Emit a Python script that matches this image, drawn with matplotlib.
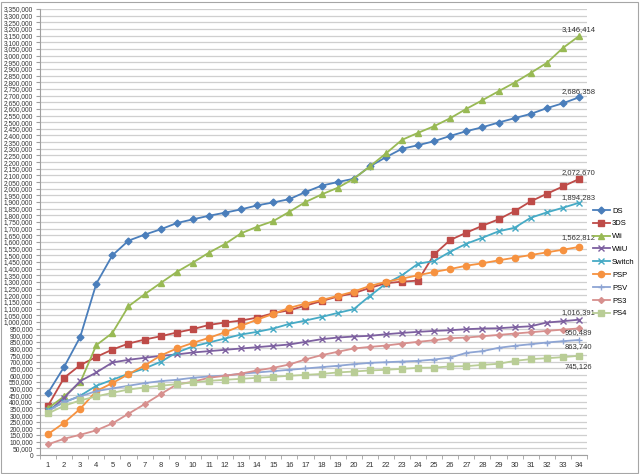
import matplotlib.pyplot as plt
import numpy as np
from matplotlib.patches import Rectangle
from matplotlib.ticker import FuncFormatter, MultipleLocator

plt.rcParams['font.family'] = ['Liberation Sans', 'DejaVu Sans']

weeks = np.arange(1, 35)

ds = [467, 662, 887, 1287, 1500, 1610, 1655, 1695, 1742, 1770, 1797, 1820, 1845, 1875, 1897, 1922,
      1975, 2023, 2050, 2075, 2167, 2237, 2300, 2327, 2357, 2397, 2432, 2462, 2497, 2530, 2562, 2605,
      2642, 2686.358]
ds3 = [370, 580, 675, 737, 792, 837, 867, 892, 920, 945, 977, 995, 1010, 1032, 1065, 1087,
       1122, 1156, 1190, 1215, 1255, 1290, 1302, 1310, 1507, 1615, 1670, 1722, 1770, 1832, 1905, 1962,
       2017, 2072.670]
wii = [352, 440, 545, 825, 917, 1117, 1207, 1292, 1375, 1445, 1520, 1585, 1665, 1715, 1757, 1827,
       1900, 1957, 2007, 2075, 2167, 2265, 2367, 2420, 2470, 2530, 2600, 2665, 2732, 2797, 2870, 2945,
       3057, 3146.414]
wiiu = [325, 430, 555, 620, 695, 715, 730, 745, 755, 770, 780, 790, 800, 810, 820, 830,
        850, 870, 882, 890, 895, 907, 917, 925, 932, 937, 945, 950, 952, 960, 967, 995,
        1005, 1016.391]
switch = [340, 395, 445, 520, 565, 610, 650, 700, 770, 815, 845, 875, 905, 925, 950, 985,
          1010, 1037, 1067, 1095, 1195, 1287, 1350, 1437, 1457, 1527, 1587, 1632, 1680, 1707, 1782, 1822,
          1857, 1894.283]
psp = [157, 242, 347, 480, 540, 607, 672, 747, 800, 842, 880, 922, 970, 1017, 1060, 1105,
       1137, 1164, 1195, 1227, 1270, 1300, 1325, 1350, 1375, 1397, 1422, 1440, 1462, 1482, 1502, 1522,
       1542, 1562.812]
psv = [330, 400, 440, 480, 500, 520, 540, 555, 565, 580, 590, 597, 610, 620, 630, 640,
       650, 660, 670, 682, 692, 697, 702, 707, 717, 732, 767, 780, 805, 820, 832, 845,
       855, 863.740]
ps3 = [80, 122, 152, 185, 237, 310, 382, 457, 530, 550, 580, 595, 612, 635, 655, 680,
       718, 750, 775, 800, 812, 822, 837, 850, 862, 877, 882, 892, 902, 912, 922, 932,
       942, 950.489]
ps4 = [312, 370, 410, 440, 467, 492, 507, 520, 532, 545, 557, 565, 572, 580, 587, 595,
       602, 609, 620, 627, 635, 640, 647, 655, 657, 665, 667, 677, 685, 707, 720, 727,
       735, 745.126]

names = ['DS', '3DS', 'Wii', 'WiiU', 'Switch', 'PSP', 'PSV', 'PS3', 'PS4']
series = [ds, ds3, wii, wiiu, switch, psp, psv, ps3, ps4]
colors = ['#4A7EBB', '#BE4B48', '#98B954', '#7D60A0', '#46AAC5', '#F69240', '#8EA5D4', '#D7908E', '#B9CD96']
markers = ['D', 's', '^', 'x', 'x', 'o', '+', 'D', 's']
msizes = [3.5, 4.5, 4.5, 4.5, 4.5, 4.5, 5, 3, 4.5]
# vertical offset of the end label, in points
label_dy = [4.5, 5, 4.5, 5, 3.5, 6.5, -5, -3, -7.5]

fig = plt.figure(figsize=(6.4, 4.74), dpi=100)
ax = fig.add_axes([40 / 640, 19 / 474, 547 / 640, 446 / 474])

for name, vals, c, m, ms, dy in zip(names, series, colors, markers, msizes, label_dy):
    v = np.array(vals) * 1000
    ax.plot(weeks, v, color=c, marker=m, ms=ms, lw=1.3, mew=1.0, label=name)
    ax.annotate(f'{round(v[-1]):,}', (weeks[-1], v[-1]), xytext=(-0.5, dy), textcoords='offset points',
                ha='center', va='center', fontsize=5.5, color='#333333')

ax.set_xlim(0.5, 34.5)
ax.set_ylim(0, 3350000)
ax.set_xticks(weeks)
ax.set_xticks(np.arange(0.5, 35, 1), minor=True)
ax.tick_params(axis='x', which='major', length=0, labelsize=5.5, pad=5, colors='#333333')
ax.tick_params(axis='x', which='minor', length=3, color='#A0A0A0')
ax.yaxis.set_major_locator(MultipleLocator(50000))
ax.yaxis.set_major_formatter(FuncFormatter(lambda v, p: f'{int(v):,}'))
ax.tick_params(axis='y', length=3, labelsize=4.8, pad=2, colors='#333333', color='#A0A0A0')
ax.grid(axis='y', color='#CFCFCF', lw=0.9)
ax.set_axisbelow(True)
for s in ['top', 'right']:
    ax.spines[s].set_visible(False)
for s in ['left', 'bottom']:
    ax.spines[s].set_color('#A0A0A0')

ax.legend(loc='center left', bbox_to_anchor=(1.005, 0.432), frameon=False, fontsize=5.5,
          handlelength=2.2, labelspacing=0.72, handletextpad=0.3, borderaxespad=0)

fig.patches.append(Rectangle((1 / 640, 1 / 474), 637 / 640, 471 / 474, transform=fig.transFigure,
                             fill=False, edgecolor='#A6A6A6', lw=0.8))

fig.savefig('out.png', dpi=100)
